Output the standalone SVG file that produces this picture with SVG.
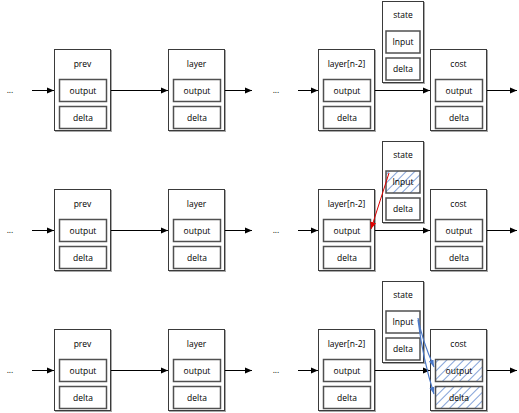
<svg xmlns="http://www.w3.org/2000/svg" width="519" height="413" viewBox="0 0 519 413">
<style>
.outer{fill:#fff;stroke:#3a3a3a;stroke-width:1}
.shadow{fill:none;stroke:#a8a8a8;stroke-width:1}
.inner{fill:#fff;stroke:#505050;stroke-width:1.5}
.hatch{fill:url(#hatch);stroke:#505050;stroke-width:1.5}
text{font-family:"Open Sans","DejaVu Sans",sans-serif;font-size:8.5px;fill:#000;text-anchor:middle}
.conn{stroke:#000;stroke-width:1;fill:none;marker-end:url(#ah)}
.red{stroke:#e00000;stroke-width:1;fill:none;marker-end:url(#ahr)}
.blue{stroke:#4a78c8;stroke-width:1.2;fill:none;marker-end:url(#ahb)}
</style>
<defs>
<marker id="ah" markerWidth="8" markerHeight="8" refX="7" refY="4" orient="auto" markerUnits="userSpaceOnUse"><path d="M0,1 L7,4 L0,7 z" fill="#000"/></marker>
<marker id="ahr" markerWidth="8" markerHeight="8" refX="7" refY="4" orient="auto" markerUnits="userSpaceOnUse"><path d="M0,1 L7,4 L0,7 z" fill="#e00000"/></marker>
<marker id="ahb" markerWidth="8" markerHeight="8" refX="7" refY="4" orient="auto" markerUnits="userSpaceOnUse"><path d="M0,1.5 L7,4 L0,6.5 z" fill="#4a78c8"/></marker>
<pattern id="hatch" patternUnits="userSpaceOnUse" width="6" height="6" patternTransform="rotate(45)">
<rect width="6" height="6" fill="#fff"/>
<line x1="0" y1="0" x2="0" y2="6" stroke="#3f6fc4" stroke-width="1.3"/>
</pattern>
</defs>

<!-- Row 1 -->
<g id="row1-prev">
<rect class="shadow" x="55.5" y="50.5" width="56" height="81"/>
<rect class="outer" x="54.5" y="49.5" width="56" height="81"/>
<text x="82.5" y="67">prev</text>
<rect class="inner" x="59.5" y="79.5" width="47" height="22"/><text x="83" y="93.5">output</text>
<rect class="inner" x="59.5" y="106.5" width="47" height="22"/><text x="83" y="120.5">delta</text>
</g>
<g id="row1-layer">
<rect class="shadow" x="169.5" y="50.5" width="56" height="81"/>
<rect class="outer" x="168.5" y="49.5" width="56" height="81"/>
<text x="196.5" y="67">layer</text>
<rect class="inner" x="173.5" y="79.5" width="47" height="22"/><text x="197" y="93.5">output</text>
<rect class="inner" x="173.5" y="106.5" width="47" height="22"/><text x="197" y="120.5">delta</text>
</g>
<g id="row1-layern2">
<rect class="shadow" x="319.5" y="50.5" width="56" height="81"/>
<rect class="outer" x="318.5" y="49.5" width="56" height="81"/>
<text x="346.5" y="67">layer[n-2]</text>
<rect class="inner" x="323.5" y="79.5" width="47" height="22"/><text x="347" y="93.5">output</text>
<rect class="inner" x="323.5" y="106.5" width="47" height="22"/><text x="347" y="120.5">delta</text>
</g>
<g id="row1-state">
<rect class="shadow" x="383.5" y="2.5" width="41" height="81"/>
<rect class="outer" x="382.5" y="1.5" width="41" height="81"/>
<text x="403" y="18">state</text>
<rect class="inner" x="386" y="31" width="34" height="22"/><text x="403" y="45">Input</text>
<rect class="inner" x="386" y="58" width="34" height="22"/><text x="403" y="72">delta</text>
</g>
<g id="row1-cost">
<rect class="shadow" x="431.5" y="50.5" width="56" height="81"/>
<rect class="outer" x="430.5" y="49.5" width="56" height="81"/>
<text x="458.5" y="67">cost</text>
<rect class="inner" x="435.5" y="79.5" width="47" height="22"/><text x="459" y="93.5">output</text>
<rect class="inner" x="435.5" y="106.5" width="47" height="22"/><text x="459" y="120.5">delta</text>
</g>

<!-- Row 2 -->
<g id="row2-prev">
<rect class="shadow" x="55.5" y="190.5" width="56" height="81"/>
<rect class="outer" x="54.5" y="189.5" width="56" height="81"/>
<text x="82.5" y="207">prev</text>
<rect class="inner" x="59.5" y="219.5" width="47" height="22"/><text x="83" y="233.5">output</text>
<rect class="inner" x="59.5" y="246.5" width="47" height="22"/><text x="83" y="260.5">delta</text>
</g>
<g id="row2-layer">
<rect class="shadow" x="169.5" y="190.5" width="56" height="81"/>
<rect class="outer" x="168.5" y="189.5" width="56" height="81"/>
<text x="196.5" y="207">layer</text>
<rect class="inner" x="173.5" y="219.5" width="47" height="22"/><text x="197" y="233.5">output</text>
<rect class="inner" x="173.5" y="246.5" width="47" height="22"/><text x="197" y="260.5">delta</text>
</g>
<g id="row2-layern2">
<rect class="shadow" x="319.5" y="190.5" width="56" height="81"/>
<rect class="outer" x="318.5" y="189.5" width="56" height="81"/>
<text x="346.5" y="207">layer[n-2]</text>
<rect class="inner" x="323.5" y="219.5" width="47" height="22"/><text x="347" y="233.5">output</text>
<rect class="inner" x="323.5" y="246.5" width="47" height="22"/><text x="347" y="260.5">delta</text>
</g>
<g id="row2-state">
<rect class="shadow" x="383.5" y="142.5" width="41" height="81"/>
<rect class="outer" x="382.5" y="141.5" width="41" height="81"/>
<text x="403" y="158">state</text>
<rect class="hatch" x="386" y="171" width="34" height="22"/><text x="403" y="185">Input</text>
<rect class="inner" x="386" y="198" width="34" height="22"/><text x="403" y="212">delta</text>
</g>
<g id="row2-cost">
<rect class="shadow" x="431.5" y="190.5" width="56" height="81"/>
<rect class="outer" x="430.5" y="189.5" width="56" height="81"/>
<text x="458.5" y="207">cost</text>
<rect class="inner" x="435.5" y="219.5" width="47" height="22"/><text x="459" y="233.5">output</text>
<rect class="inner" x="435.5" y="246.5" width="47" height="22"/><text x="459" y="260.5">delta</text>
</g>

<!-- Row 3 -->
<g id="row3-prev">
<rect class="shadow" x="55.5" y="330.5" width="56" height="81"/>
<rect class="outer" x="54.5" y="329.5" width="56" height="81"/>
<text x="82.5" y="347">prev</text>
<rect class="inner" x="59.5" y="359.5" width="47" height="22"/><text x="83" y="373.5">output</text>
<rect class="inner" x="59.5" y="386.5" width="47" height="22"/><text x="83" y="400.5">delta</text>
</g>
<g id="row3-layer">
<rect class="shadow" x="169.5" y="330.5" width="56" height="81"/>
<rect class="outer" x="168.5" y="329.5" width="56" height="81"/>
<text x="196.5" y="347">layer</text>
<rect class="inner" x="173.5" y="359.5" width="47" height="22"/><text x="197" y="373.5">output</text>
<rect class="inner" x="173.5" y="386.5" width="47" height="22"/><text x="197" y="400.5">delta</text>
</g>
<g id="row3-layern2">
<rect class="shadow" x="319.5" y="330.5" width="56" height="81"/>
<rect class="outer" x="318.5" y="329.5" width="56" height="81"/>
<text x="346.5" y="347">layer[n-2]</text>
<rect class="inner" x="323.5" y="359.5" width="47" height="22"/><text x="347" y="373.5">output</text>
<rect class="inner" x="323.5" y="386.5" width="47" height="22"/><text x="347" y="400.5">delta</text>
</g>
<g id="row3-state">
<rect class="shadow" x="383.5" y="282.5" width="41" height="81"/>
<rect class="outer" x="382.5" y="281.5" width="41" height="81"/>
<text x="403" y="298">state</text>
<rect class="inner" x="386" y="311" width="34" height="22"/><text x="403" y="325">Input</text>
<rect class="inner" x="386" y="338" width="34" height="22"/><text x="403" y="352">delta</text>
</g>
<g id="row3-cost">
<rect class="shadow" x="431.5" y="330.5" width="56" height="81"/>
<rect class="outer" x="430.5" y="329.5" width="56" height="81"/>
<text x="458.5" y="347">cost</text>
<rect class="hatch" x="435.5" y="359.5" width="47" height="22"/><text x="459" y="373.5">output</text>
<rect class="hatch" x="435.5" y="386.5" width="47" height="22"/><text x="459" y="400.5">delta</text>
</g>

<!-- ellipses -->
<g id="ellipses">
<text x="10" y="93">...</text>
<text x="276" y="93">...</text>
<text x="10" y="233">...</text>
<text x="276" y="233">...</text>
<text x="10" y="373">...</text>
<text x="276" y="373">...</text>
</g>

<g id="connectors">
<line class="conn" x1="32" y1="90.5" x2="54" y2="90.5"/>
<line class="conn" x1="111" y1="90.5" x2="168" y2="90.5"/>
<line class="conn" x1="225" y1="90.5" x2="252" y2="90.5"/>
<line class="conn" x1="298" y1="90.5" x2="318" y2="90.5"/>
<line class="conn" x1="375" y1="90.5" x2="430" y2="90.5"/>
<line class="conn" x1="487" y1="90.5" x2="517" y2="90.5"/>

<line class="conn" x1="32" y1="230.5" x2="54" y2="230.5"/>
<line class="conn" x1="111" y1="230.5" x2="168" y2="230.5"/>
<line class="conn" x1="225" y1="230.5" x2="252" y2="230.5"/>
<line class="conn" x1="298" y1="230.5" x2="318" y2="230.5"/>
<line class="conn" x1="375" y1="230.5" x2="430" y2="230.5"/>
<line class="conn" x1="487" y1="230.5" x2="517" y2="230.5"/>

<line class="conn" x1="32" y1="370.5" x2="54" y2="370.5"/>
<line class="conn" x1="111" y1="370.5" x2="168" y2="370.5"/>
<line class="conn" x1="225" y1="370.5" x2="252" y2="370.5"/>
<line class="conn" x1="298" y1="370.5" x2="318" y2="370.5"/>
<line class="conn" x1="375" y1="370.5" x2="430" y2="370.5"/>
<line class="conn" x1="487" y1="370.5" x2="517" y2="370.5"/>

<line class="red" x1="389" y1="173" x2="371" y2="229"/>
<path class="blue" d="M418,318 Q422,340 434,367"/>
<path class="blue" d="M418,320 Q423,360 434,394"/>
</g>
</svg>
